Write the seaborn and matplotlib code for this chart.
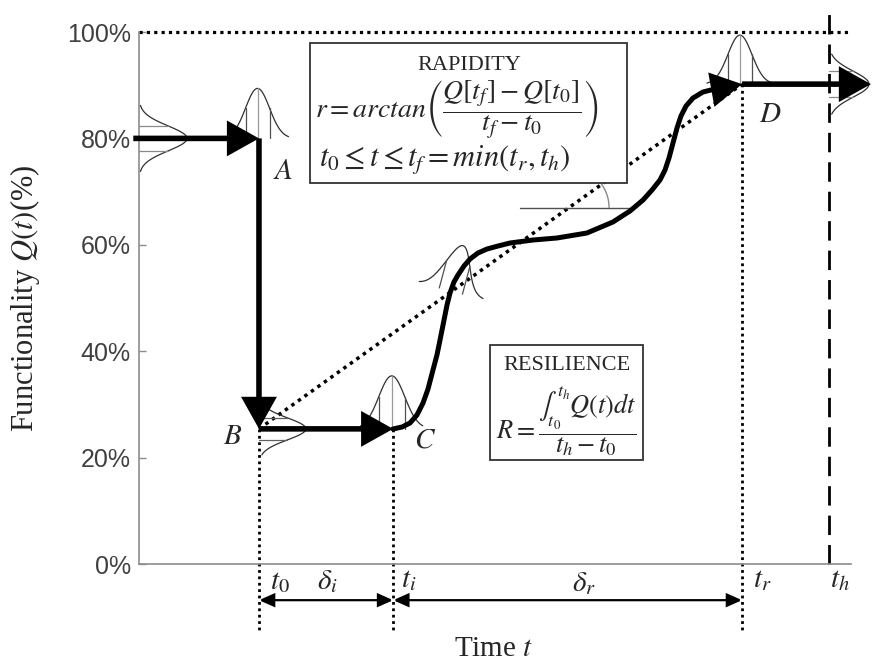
import numpy as np
import matplotlib
matplotlib.use("Agg")
import matplotlib.pyplot as plt
import seaborn as sns
from matplotlib.patches import FancyArrowPatch, Rectangle, ArrowStyle

# ---------------- data ----------------
y_ticks = [0, 20, 40, 60, 80, 100]
y_tick_labels = ["0%", "20%", "40%", "60%", "80%", "100%"]

t_start = -0.8
t0 = 16.85
ti = 35.7
tr = 84.7
th = 96.9
t_end = 102.8

q_pre = 80.0
q_drop = 25.4
q_rec = 90.2
q_full = 100.0

rec_t = [35.67, 36.94, 38.06, 39.04, 39.89, 40.59, 41.29, 41.85, 42.28, 42.70, 43.26,
         43.68, 44.24, 44.80, 45.65, 46.49, 47.61, 48.88, 50.42, 52.11, 55.34, 58.71,
         62.92, 66.57, 68.96, 70.79, 72.05, 73.17, 73.88, 74.44, 75.00, 75.56, 76.12,
         76.83, 77.81, 79.21, 80.90]
rec_q = [25.38, 25.75, 26.50, 28.01, 30.26, 32.89, 36.47, 39.29, 42.11, 44.92, 48.68,
         50.94, 53.01, 54.32, 56.02, 57.33, 58.46, 59.21, 59.77, 60.34, 60.90, 61.28,
         62.22, 64.29, 66.35, 68.42, 70.30, 72.18, 74.06, 76.32, 79.14, 81.95, 84.21,
         86.09, 87.59, 88.72, 89.29]

# ---------------- figure ----------------
sns.set_theme(style="white")
plt.rcParams["font.family"] = ["Liberation Serif", "DejaVu Serif"]
plt.rcParams["mathtext.fontset"] = "stix"

W, H = 872, 662
fig = plt.figure(figsize=(W / 100, H / 100), dpi=100)
AX_L, AX_R, AX_T, AX_B = 139, 851, 32, 564
ax = fig.add_axes([AX_L / W, (H - AX_B) / H, (AX_R - AX_L) / W, (AX_B - AX_T) / H])
ax.set_xlim(0, 100)
ax.set_ylim(0, 100)
PXX = (AX_R - AX_L) / 100.0
PXY = (AX_B - AX_T) / 100.0


def fx(px):
    return px / W


def fy(py):
    return 1 - py / H


for s in ["top", "right"]:
    ax.spines[s].set_visible(False)
for s in ["left", "bottom"]:
    ax.spines[s].set_color("#8c8c8c")
    ax.spines[s].set_linewidth(1.2)
ax.set_xticks([])
ax.set_yticks(y_ticks)
ax.set_yticklabels(y_tick_labels, fontsize=18, color="#404040", family="Liberation Sans")
ax.tick_params(axis="y", direction="in", length=5, width=1, color="#8c8c8c", pad=6, left=True)

BLACK = "black"
DOT = (0, (1, 1.3))


def arrow(p0, p1, lw=4, hl=17, hw=9.5, style="-|>", z=6):
    a = FancyArrowPatch(p0, p1, arrowstyle=ArrowStyle(style, head_length=hl, head_width=hw),
                        mutation_scale=1, lw=lw, color=BLACK, shrinkA=0, shrinkB=0,
                        joinstyle="miter", capstyle="butt", zorder=z, clip_on=False)
    ax.add_patch(a)


def bell(x0, y0, amp, sig, half, phi_deg, lines=(-1, 0, 1), side_col="#505050", z=4):
    phi = np.deg2rad(phi_deg)
    up = np.array([np.cos(phi), np.sin(phi)])
    base = np.array([np.cos(phi - np.pi / 2), np.sin(phi - np.pi / 2)])
    s = np.linspace(-half, half, 120)
    h = amp * np.exp(-0.5 * (s / sig) ** 2)
    px = s * base[0] + h * up[0]
    py = s * base[1] + h * up[1]
    ax.plot(x0 + px / PXX, y0 + py / PXY, color="#303030", lw=0.9, zorder=z, clip_on=False)
    for k in lines:
        sk = k * sig
        hk = amp * np.exp(-0.5 * k ** 2)
        xs = [sk * base[0], sk * base[0] + hk * up[0]]
        ys = [sk * base[1], sk * base[1] + hk * up[1]]
        col = "#9a9a9a" if k == 0 else side_col
        ax.plot(x0 + np.array(xs) / PXX, y0 + np.array(ys) / PXY, color=col, lw=0.9,
                zorder=z, clip_on=False)


# reference lines
ax.plot([0, 100], [q_full, q_full], color=BLACK, lw=2.3, ls=DOT, zorder=2, clip_on=False)
ax.plot([th, th], [0, 105], color=BLACK, lw=2.0, ls=(0, (7, 3.6)), zorder=2, clip_on=False)
for tx, qy in [(t0, q_drop), (ti, q_drop), (tr, q_rec)]:
    ax.plot([tx, tx], [qy, -12.5], color=BLACK, lw=2.0, ls=DOT, zorder=2, clip_on=False)
ax.plot([t0, tr], [q_drop, q_rec], color=BLACK, lw=2.5, ls=DOT, zorder=3)

# rapidity angle
ang = np.arctan((q_rec - q_drop) * PXY / ((tr - t0) * PXX))
xc = 60.4
yc = q_drop + (xc - t0) * (q_rec - q_drop) / (tr - t0)
ax.plot([53.5, 69.2], [yc, yc], color="#505050", lw=1.0, zorder=3)
aa = np.linspace(0, ang, 40)
ax.plot(xc + 40 * np.cos(aa) / PXX, yc + 40 * np.sin(aa) / PXY, color="#8a8a8a", lw=1.0, zorder=3)

# distributions
bell(0, q_pre, 48, 12.5, 33, 0, lines=(-1, 1), side_col="#8a8a8a")
bell(t0 - 0.2, q_pre, 50, 12, 31, 90)
bell(t0, q_drop, 47, 11, 26, 0, lines=(-1, 1), side_col="#606060")
bell(ti - 0.2, q_drop, 53, 13, 31, 90)
bell(43.8, 51.3, 47, 12, 33, 75, lines=(-1, 1))
bell(tr - 0.3, q_rec, 49, 12, 33, 90)
bell(th, q_rec, 40, 13, 30, 0, lines=(-1, 1), side_col="#8a8a8a")

# main functionality path
arrow((t_start, q_pre), (t0, q_pre))
arrow((t0, q_pre), (t0, q_drop))
arrow((t0, q_drop), (ti, q_drop))
sns.lineplot(x=rec_t, y=rec_q, sort=False, estimator=None, color=BLACK, lw=3.6, ax=ax, zorder=6)
ax.lines[-1].set_solid_joinstyle("round")
ax.lines[-1].set_solid_capstyle("round")
arrow((rec_t[-1], rec_q[-1]), (tr, q_rec), lw=3.6)
arrow((tr, q_rec), (t_end, q_rec))

# dimension arrows
ydim = -6.8
arrow((t0, ydim), (ti, ydim), lw=1.6, hl=9, hw=4, style="<|-|>")
arrow((ti, ydim), (tr, ydim), lw=1.6, hl=9, hw=4, style="<|-|>")

# point labels
for lab, x, y in [("A", 20.2, 73.7), ("B", 13.1, 23.9), ("C", 40.2, 23.3), ("D", 88.6, 84.4)]:
    ax.text(x, y, "$" + lab + "$", fontsize=21, ha="center", va="center", clip_on=False)
for lab, x, y in [("t_0", 19.8, -3.4), ("\\delta_i", 26.4, -3.4), ("t_i", 37.9, -3.0),
                  ("\\delta_r", 62.5, -3.6), ("t_r", 87.6, -3.0), ("t_h", 98.5, -3.0)]:
    ax.text(x, y, "$" + lab + "$", fontsize=21, ha="center", va="center", clip_on=False)

# axis labels
ax.set_ylabel("Functionality $Q(t)$(%)", fontsize=22)
ax.yaxis.set_label_coords((42 - AX_L) / (AX_R - AX_L), 0.5)
fig.text(fx(494), fy(649), "Time $t$", fontsize=21, ha="center", va="center")

# boxes
fig.add_artist(Rectangle((fx(310), fy(183)), fx(627) - fx(310), fy(43) - fy(183),
                         transform=fig.transFigure, facecolor="white", edgecolor="#333333",
                         lw=1.3, zorder=5))
fig.text(fx(469), fy(66), "RAPIDITY", fontsize=16, ha="center", va="center", zorder=6)
fig.text(fx(457), fy(109), r"$r = arctan\left(\dfrac{Q[t_f]-Q[t_0]}{t_f-t_0}\right)$",
         fontsize=20, ha="center", va="center", zorder=6)
fig.text(fx(445), fy(160), r"$t_0 \leq t \leq t_f = min(t_r, t_h)$",
         fontsize=22, ha="center", va="center", zorder=6)

fig.add_artist(Rectangle((fx(490), fy(460)), fx(643) - fx(490), fy(345) - fy(460),
                         transform=fig.transFigure, facecolor="white", edgecolor="#333333",
                         lw=1.3, zorder=5))
fig.text(fx(567), fy(366), "RESILIENCE", fontsize=16, ha="center", va="center", zorder=6)
fig.text(fx(566), fy(421), r"$R = \dfrac{\int_{t_0}^{t_h} Q(t)dt}{t_h - t_0}$",
         fontsize=19, ha="center", va="center", zorder=6)

fig.savefig("out.png", dpi=100)
